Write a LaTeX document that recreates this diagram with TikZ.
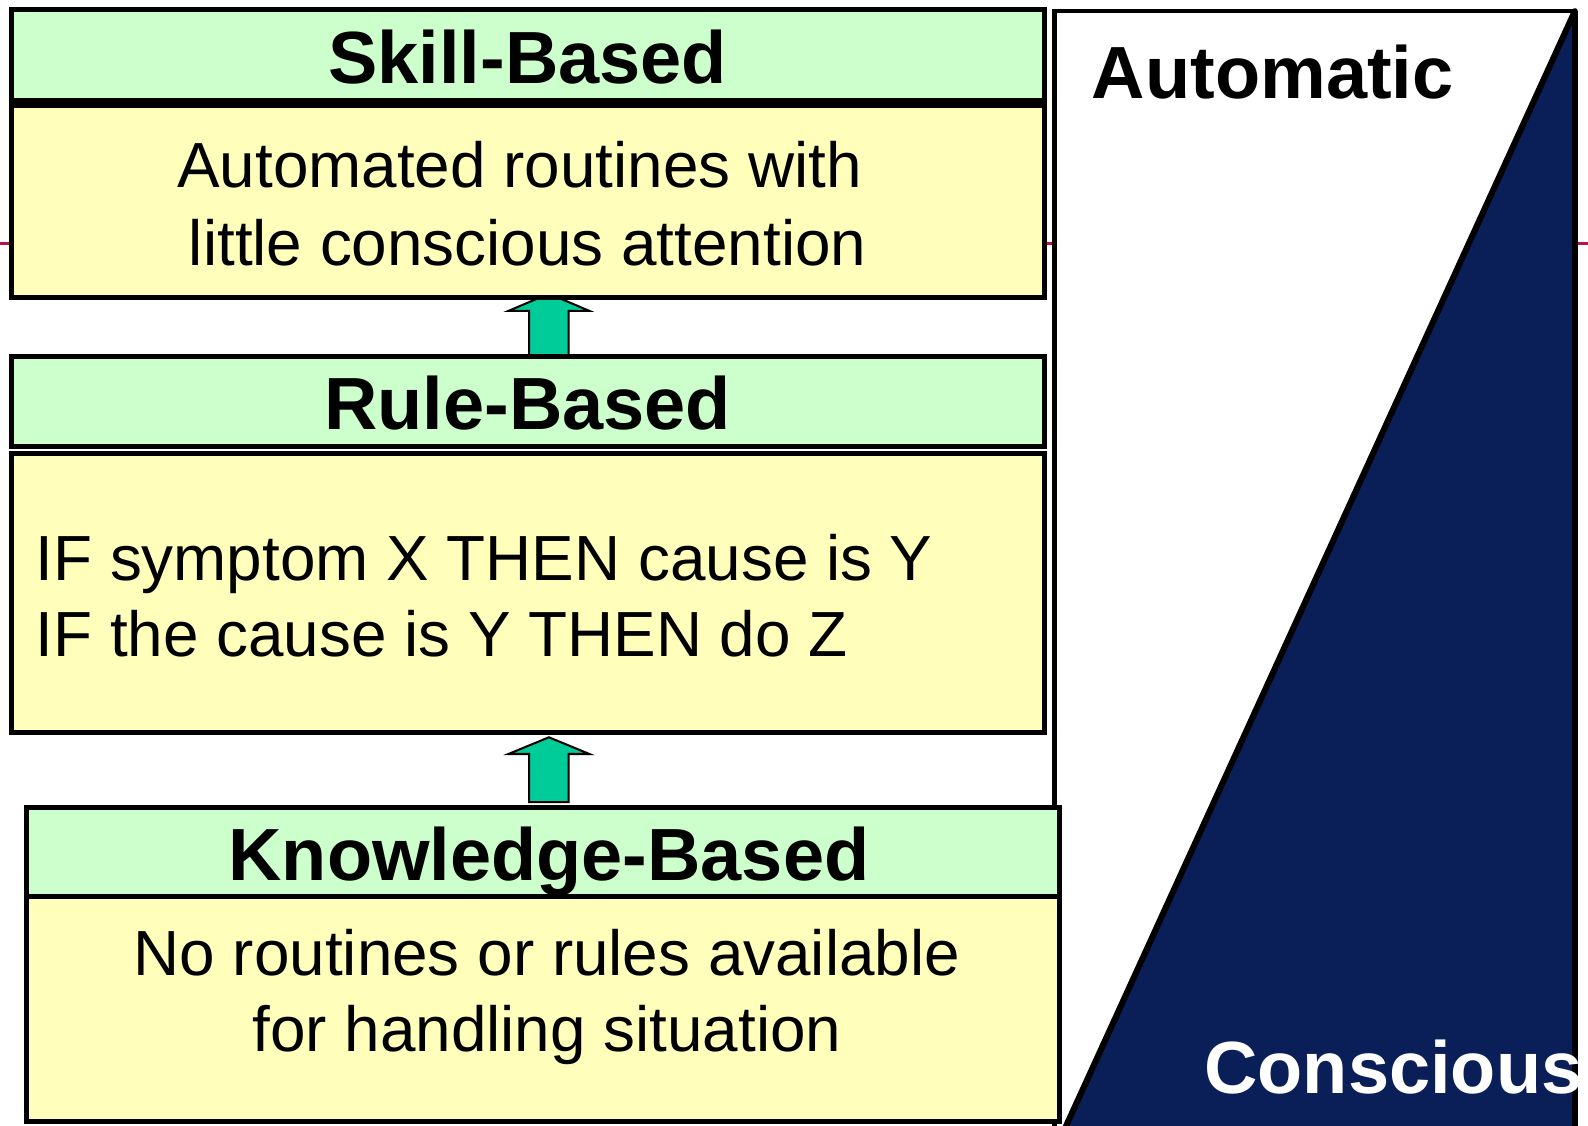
\documentclass[tikz,border=0pt]{standalone}
\usepackage{fontspec}
\setmainfont{Liberation Sans}
\usetikzlibrary{calc}
\definecolor{hdrgreen}{HTML}{CCFFCC}
\definecolor{bodyyellow}{HTML}{FFFFBB}
\definecolor{arrowgreen}{HTML}{00CC99}
\definecolor{navyfill}{HTML}{0A1E58}
\definecolor{redrule}{HTML}{C0104A}
\begin{document}
\begin{tikzpicture}[x=1pt,y=-1pt,
  hdr/.style={draw=black, line width=5pt, fill=hdrgreen, anchor=north west, inner sep=0pt, outer sep=0pt,
    minimum width=1020pt, text height=56pt, text depth=0pt, font=\fontsize{73}{88}\selectfont\bfseries},
  bodybox/.style={draw=black, line width=5pt, fill=bodyyellow, anchor=north west, inner sep=0pt, outer sep=0pt, minimum width=1020pt},
  bodytxt/.style={anchor=base, inner sep=0pt, font=\fontsize{63}{76}\selectfont},
  blockarrow/.style={draw=black, line width=2pt, fill=arrowgreen, line join=miter},
  bigtxt/.style={anchor=base west, inner sep=0pt, font=\fontsize{73}{88}\selectfont\bfseries}]
\clip (0,0) rectangle (1568,1111);
\fill[white] (0,0) rectangle (1568,1111);
% red guide line behind everything
\coordinate (redL) at (0,240);
\coordinate (redR) at (1568,240);
\draw[redrule, line width=3pt] (redL) -- (redR);

% Automatic / Conscious panel
\node[draw=black, line width=4.5pt, fill=white, anchor=north west, inner sep=0pt, outer sep=0pt,
  minimum width=514pt, minimum height=1120pt] (autobox) at (1041,11) {};
\coordinate (tribl) at (1053,1111);
\fill[navyfill] (autobox.north east) -- ($(autobox.north east)!1.03!(tribl)$) -- (autobox.south east) -- cycle;
\draw[black, line width=6pt, line cap=round] (autobox.north east) -- ($(autobox.north east)!1.03!(tribl)$);
\draw[black, line width=6pt] (autobox.north east) -- (autobox.south east);
\node[bigtxt] (auto) at (1078,97) {Automatic};
\node[bigtxt, text=white] (consc) at (1189,1080) {Conscious};

% block arrows
\coordinate (tip1) at (542,290);
\draw[blockarrow] (tip1) -- ++(40,17) -- ++(-20.5,0) -- ++(0,45.5) -- ++(-39,0) -- ++(0,-45.5) -- ++(-20.5,0) -- cycle;
\coordinate (tip2) at (542,728);
\draw[blockarrow] (tip2) -- ++(40,16.5) -- ++(-20.5,0) -- ++(0,47.5) -- ++(-39,0) -- ++(0,-47.5) -- ++(-20.5,0) -- cycle;

% Skill-based
\node[hdr, minimum height=90pt] (skillh) at (11,9) {Skill-Based};
\node[bodybox, minimum height=190pt] (skillb) at (11,104) {};
\node[bodytxt] (sk1) at (513,185) {Automated routines with};
\node[bodytxt] (sk2) at (521,262) {little conscious attention};

% Rule-based
\node[hdr, minimum height=89pt] (ruleh) at (11,352) {Rule-Based};
\node[bodybox, minimum height=275pt] (ruleb) at (11,448) {};
\node[bodytxt, anchor=base west] (rl1) at (35,573) {IF symptom X THEN cause is Y};
\node[bodytxt, anchor=base west] (rl2) at (35,648) {IF the cause is Y THEN do Z};

% Knowledge-based
\node[hdr, minimum height=88pt, text width=1020pt, align=center] (knowh) at (26,797) {\hspace*{12pt}Knowledge-Based};
\node[bodybox, minimum height=222pt] (knowb) at (26,885) {};
\node[bodytxt] (kn1) at (540,963) {No routines or rules available};
\node[bodytxt] (kn2) at (540,1038) {for handling situation};
\end{tikzpicture}
\end{document}
